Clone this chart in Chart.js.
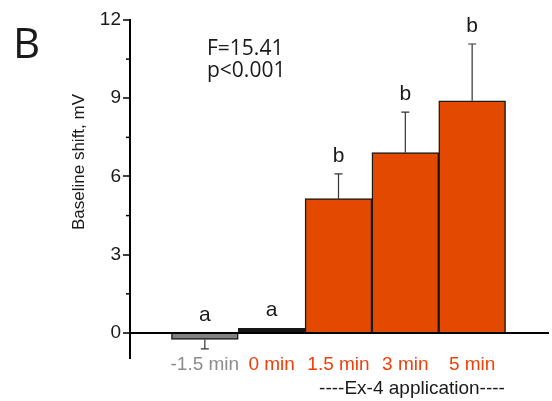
<!DOCTYPE html>
<html>
<head>
<meta charset="utf-8">
<script src="https://cdn.jsdelivr.net/npm/chart.js@4.4.1/dist/chart.umd.min.js"></script>
<style>
  html, body { margin: 0; padding: 0; background: #fff; }
  #wrap { width: 552px; height: 401px; }
</style>
</head>
<body>
<div id="wrap"><canvas id="chart"></canvas></div>
<script>
const categories = ["-1.5 min", "0 min", "1.5 min", "3 min", "5 min"];
const baselineShift = [-0.25, 0.18, 5.15, 6.92, 8.9];
const semError = [0.36, 0, 0.95, 1.55, 2.18];
const groupLetters = ["a", "a", "b", "b", "b"];
const yTicks = [0, 1.5, 3, 4.5, 6, 7.5, 9, 10.5, 12];

const barColors = ["#808080", "#151515", "#e34a00", "#e34a00", "#e34a00"];
const labelColors = ["#8c8c8c", "#f0400a", "#f0400a", "#f0400a", "#f0400a"];

const isMajor = (v) => v % 3 === 0;
const sans = "'Liberation Sans', Arial, sans-serif";

const errorAndLetters = {
    id: "errorAndLetters",
    afterDatasetsDraw: (chart) => {
        const {ctx, scales: {y}} = chart;
        const meta = chart.getDatasetMeta(0);
        ctx.save();
        ctx.strokeStyle = "#333";
        ctx.lineWidth = 1.2;
        meta.data.forEach((bar, i) => {
            const v = baselineShift[i];
            const e = semError[i];
            const tip = v >= 0 ? v + e : v - e;
            if (e > 0) {
                const y0 = y.getPixelForValue(v);
                const y1 = y.getPixelForValue(tip);
                ctx.beginPath();
                ctx.moveTo(bar.x, y0);
                ctx.lineTo(bar.x, y1);
                ctx.moveTo(bar.x - 4, y1);
                ctx.lineTo(bar.x + 4, y1);
                ctx.stroke();
            }
            const top = y.getPixelForValue(v >= 0 ? tip : 0);
            ctx.fillStyle = "#1a1a1a";
            ctx.font = "21px " + sans;
            ctx.textAlign = "center";
            ctx.textBaseline = "alphabetic";
            ctx.fillText(groupLetters[i], bar.x, top - 12);
        });
        // short minor ticks on the y axis
        ctx.strokeStyle = "#000";
        ctx.lineWidth = 1.5;
        yTicks.filter((v) => !isMajor(v)).forEach((v) => {
            const py = y.getPixelForValue(v);
            ctx.beginPath();
            ctx.moveTo(y.right - 4, py);
            ctx.lineTo(y.right, py);
            ctx.stroke();
        });
        ctx.restore();
    },
    afterDraw: (chart) => {
        const {ctx, scales: {x}} = chart;
        ctx.save();
        // category labels under the bars
        ctx.font = "19px " + sans;
        ctx.textAlign = "center";
        ctx.textBaseline = "alphabetic";
        categories.forEach((c, i) => {
            ctx.fillStyle = labelColors[i];
            ctx.fillText(c, x.getPixelForValue(i), 370);
        });
        ctx.fillStyle = "#1a1a1a";
        ctx.fillText("----Ex-4 application----", x.getPixelForValue(3.1), 394);
        ctx.textAlign = "left";
        ctx.font = "42px 'Open Sans', sans-serif";
        ctx.fillText("B", 13, 58);
        ctx.font = "21px 'Open Sans', sans-serif";
        ctx.fillText("F=15.41", 207, 55);
        ctx.fillText("p<0.001", 207, 77);
        ctx.textAlign = "center";
        ctx.translate(84, 162);
        ctx.rotate(-Math.PI / 2);
        ctx.font = "17px " + sans;
        ctx.fillText("Baseline shift, mV", 0, 0);
        ctx.restore();
    }
};

new Chart(document.getElementById("chart").getContext("2d"), {
    type: "bar",
    data: {
        datasets: [{
            data: categories.map((c, i) => ({x: i, y: baselineShift[i]})),
            backgroundColor: barColors,
            borderColor: "#1a1a1a",
            borderWidth: 1.5,
            barPercentage: 1,
            categoryPercentage: 1,
        }],
    },
    options: {
        responsive: true,
        maintainAspectRatio: false,
        animation: false,
        layout: {padding: {left: 100, right: 3, top: 20, bottom: 21}},
        plugins: {legend: {display: false}, tooltip: {enabled: false}},
        scales: {
            x: {
                type: "linear",
                min: -1.12,
                max: 5.15,
                offset: false,
                afterBuildTicks: (scale) => {
                    scale.ticks = categories.map((c, i) => ({value: i}));
                },
                afterFit: (scale) => { scale.height = 22; },
                grid: {display: false, drawTicks: false},
                border: {display: false},
                ticks: {display: false},
            },
            y: {
                min: -0.96,
                max: 12,
                afterBuildTicks: (scale) => {
                    scale.ticks = yTicks.map((v) => ({value: v}));
                },
                afterFit: (scale) => { scale.width = 30; },
                border: {display: true, color: "#000", width: 2},
                grid: {
                    drawOnChartArea: true,
                    color: (c) => (c.tick && c.tick.value === 0 ? "#000" : "rgba(0,0,0,0)"),
                    lineWidth: 2,
                    tickColor: (c) => (c.tick && isMajor(c.tick.value) ? "#000" : "rgba(0,0,0,0)"),
                    tickLength: 7,
                    tickWidth: 1.5,
                },
                ticks: {
                    padding: 2,
                    color: "#1a1a1a",
                    callback: (v) => (isMajor(v) ? v : ""),
                    font: {family: sans, size: 19},
                },
            },
        },
    },
    plugins: [errorAndLetters],
});
</script>
</body>
</html>
